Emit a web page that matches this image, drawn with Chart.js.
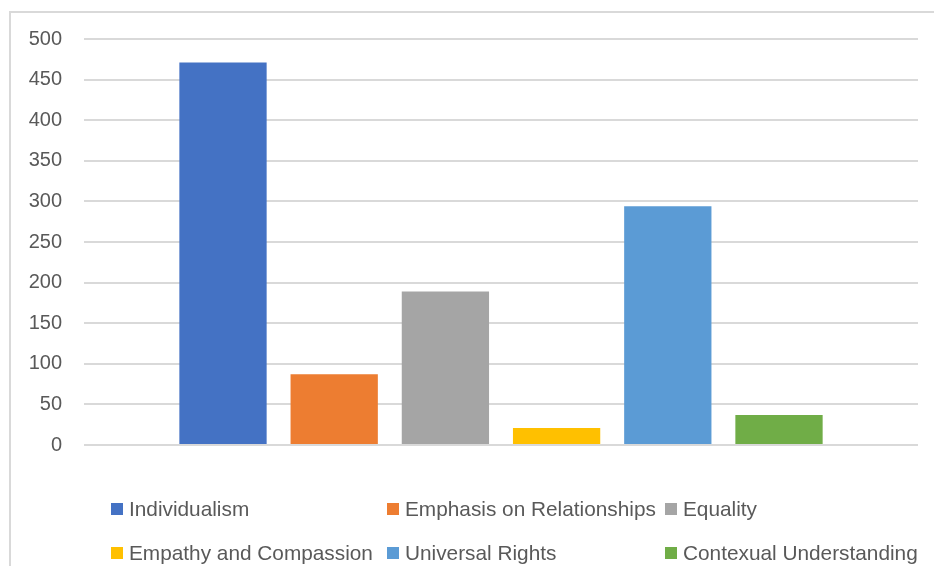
<head>
  <meta charset="utf-8" />
  <title>Frequency chart</title>
  <script src="https://cdn.jsdelivr.net/npm/chart.js"></script>
  <style>
    body { margin: 0; background: #fff; width: 934px; height: 566px; overflow: hidden; position: relative; }
    #frame { position: absolute; left: 9px; top: 11px; width: 940px; height: 600px; border-left: 2px solid #d9d9d9; border-top: 2px solid #d9d9d9; }
    #wrap { position: absolute; left: 11px; top: 5px; width: 923px; height: 474px; }
    #legend { position: absolute; left: 0; top: 0; width: 934px; height: 566px; pointer-events: none;
      font-family: "Liberation Sans", Arial, sans-serif; font-size: 20.8px; color: #595959; }
    .item { position: absolute; display: flex; align-items: center; white-space: nowrap; }
    .box { width: 12px; height: 12px; margin-right: 6px; }
  </style>
</head>

<body>
  <div id="frame"></div>
  <div id="wrap"><canvas id="chart"></canvas></div>
  <div id="legend"></div>
</body>

<script>
  const labels = ["Individualism", "Emphasis on Relationships", "Equality",
    "Empathy and Compassion", "Universal Rights", "Contexual Understanding"];
  const values = [471, 87, 189, 21, 294, 37];
  const colors = ["#4472C4", "#ED7D31", "#A5A5A5", "#FFC000", "#5B9BD5", "#70AD47"];
  const yTicks = [0, 50, 100, 150, 200, 250, 300, 350, 400, 450, 500];

  const chart = new Chart(document.getElementById("chart"), {
    type: "bar",
    data: {
      labels: [""],
      datasets: labels.map((name, i) => ({
        label: name,
        data: [values[i]],
        backgroundColor: colors[i],
        categoryPercentage: 0.8,
        barPercentage: 0.785,
      })),
    },
    options: {
      responsive: true,
      maintainAspectRatio: false,
      animation: false,
      layout: { padding: { top: 17, right: 16, bottom: 1, left: 0 } },
      plugins: { legend: { display: false }, tooltip: { enabled: false } },
      scales: {
        x: { display: false },
        y: {
          min: 0,
          max: 500,
          afterFit: (s) => { s.width = 73; },
          afterBuildTicks: (s) => { s.ticks = yTicks.map((v) => ({ value: v })); },
          border: { display: false },
          grid: { color: "#d9d9d9", lineWidth: 2, drawTicks: false },
          ticks: {
            color: "#595959",
            padding: 22,
            font: { family: "Liberation Sans", size: 20 },
          },
        },
      },
    },
  });

  // legend laid out in columns like the original
  const cols = [111, 387, 665];
  const rows = [509, 553];
  const legend = document.getElementById("legend");
  labels.forEach((name, i) => {
    const el = document.createElement("div");
    el.className = "item";
    el.style.left = cols[i % 3] + "px";
    el.style.top = (rows[Math.floor(i / 3)] - 12) + "px";
    el.innerHTML = '<span class="box" style="background:' + colors[i] + '"></span>' + name;
    legend.appendChild(el);
  });
</script>
